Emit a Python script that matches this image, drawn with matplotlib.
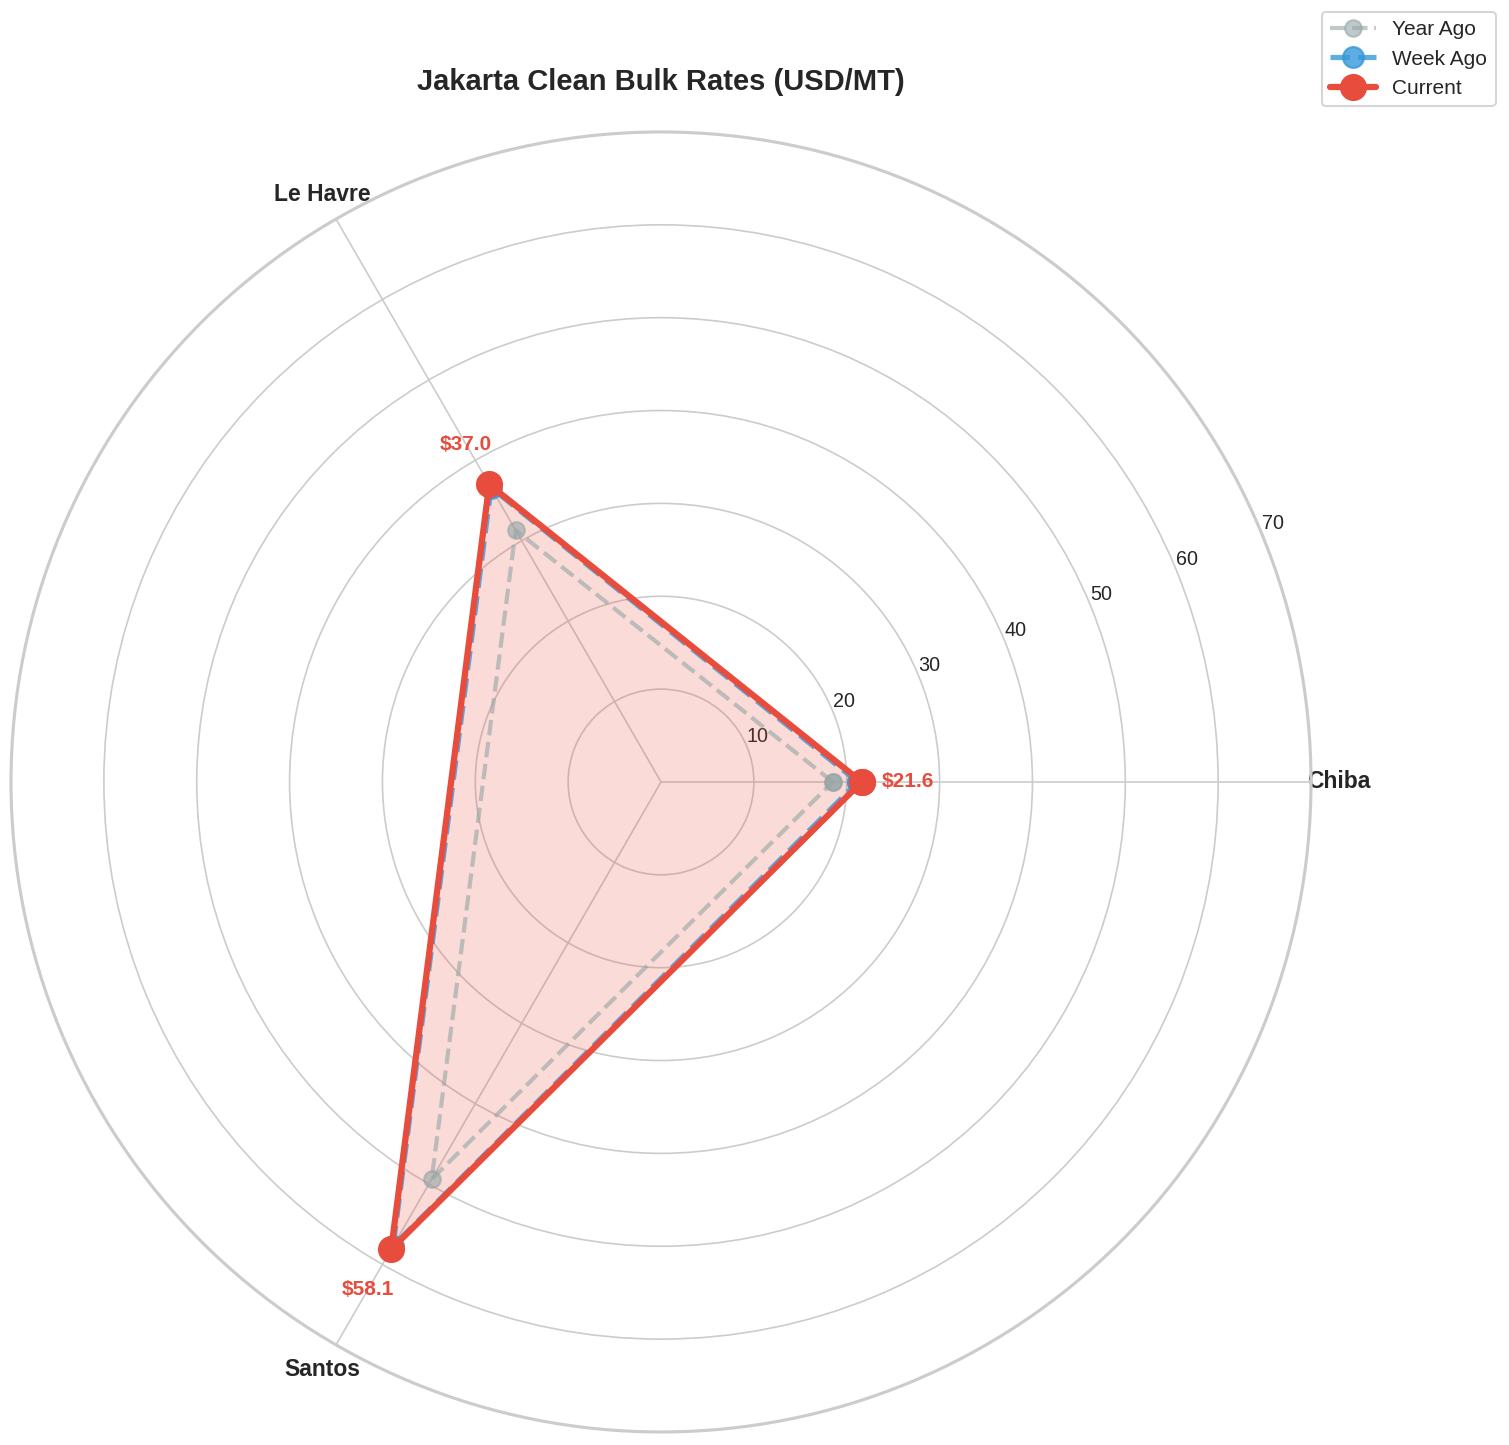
import numpy as np
import matplotlib.pyplot as plt
import seaborn as sns

sns.set_style('whitegrid')
plt.rcParams['font.family'] = ['Liberation Sans', 'DejaVu Sans']

ports = ['Chiba', 'Le Havre', 'Santos']
year_ago = [18.5, 31.3, 49.4]
week_ago = [21.2, 36.6, 57.7]
current = [21.6, 37.0, 58.1]
rticks = [10, 20, 30, 40, 50, 60, 70]


def closed(vals):
    return list(vals) + [vals[0]]


angles = np.linspace(0, 2 * np.pi, len(ports), endpoint=False)
ang = closed(angles)

fig = plt.figure(figsize=(1509 / 150, 1445 / 150), dpi=150)
ax = fig.add_axes([0.0073, 0.009, 0.8615, 0.8997], projection='polar')

ax.plot(ang, closed(year_ago), color='#95a5a6', ls='--', lw=2, marker='o',
        ms=8, alpha=0.6, label='Year Ago')
ax.plot(ang, closed(week_ago), color='#3498db', ls='--', lw=2.5, marker='o',
        ms=10, alpha=0.8, label='Week Ago')
ax.plot(ang, closed(current), color='#e74c3c', lw=3, marker='o', ms=12,
        label='Current')
ax.fill(ang, closed(current), color='#e74c3c', alpha=0.2)

for a, v in zip(angles, current):
    ax.text(a, v + 5, f'${v:.1f}', color='#e74c3c', fontsize=10,
            fontweight='bold', ha='center', va='center')

ax.set_xticks(angles)
ax.set_xticklabels(ports, fontsize=11, fontweight='bold')
ax.tick_params(axis='x', pad=3)
ax.set_ylim(0, 70)
ax.set_yticks(rticks)
ax.set_yticklabels([str(t) for t in rticks], fontsize=9.5)
ax.spines['polar'].set_linewidth(1.5)

ax.set_title('Jakarta Clean Bulk Rates (USD/MT)', fontsize=14,
             fontweight='bold', pad=20)
fig.legend(loc='upper right', bbox_to_anchor=(0.998, 0.999), fontsize=10,
           handlelength=2.2)

fig.savefig('out.png', dpi=150)
